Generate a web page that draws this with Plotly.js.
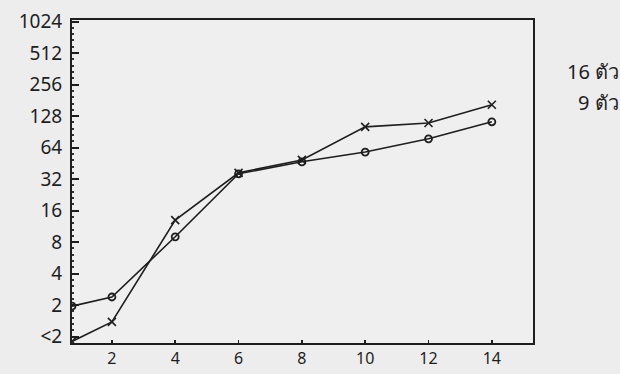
<!DOCTYPE html>
<html>
<head>
<meta charset="utf-8">
<script src="https://cdn.plot.ly/plotly-3.0.1.min.js"></script>
<style>html,body{margin:0;padding:0;background:#ededed;}</style>
</head>
<body>
<div id="chart" style="width:620px;height:374px;"></div>
<script>
// x values (time points); first point sits on the left axis
const xValues = [0.74, 2, 4, 6, 8, 10, 12, 14];
// y values are log2 step indexes: 0 = "<2", 1 = 2, 2 = 4, ... 10 = 1024
const series16 = [-0.15, 0.47, 3.70, 5.20, 5.61, 6.66, 6.78, 7.36];
const series9 = [0.97, 1.26, 3.17, 5.17, 5.55, 5.86, 6.28, 6.82];
const seriesNames = ["16 ตัว", "9 ตัว"];
const yTickVals = [0, 1, 2, 3, 4, 5, 6, 7, 8, 9, 10];
const yTickText = ["<2", "2", "4", "8", "16", "32", "64", "128", "256", "512", "1024"];
const xTickVals = [2, 4, 6, 8, 10, 12, 14];
const xTickText = ["2", "4", "6", "8", "10", "12", "14"];

const ink = '#1e1e1e';
const traces = [
  {x: xValues, y: series16, name: seriesNames[0], mode: 'lines+markers',
   line: {color: ink, width: 1.6},
   marker: {symbol: 'x-thin-open', size: 8, color: ink, line: {color: ink, width: 1.6}}},
  {x: xValues, y: series9, name: seriesNames[1], mode: 'lines+markers',
   line: {color: ink, width: 1.6},
   marker: {symbol: 'circle-open', size: 7, color: ink, line: {color: ink, width: 1.8}}}
];

const layout = {
  width: 620, height: 374,
  margin: {l: 72, r: 87, t: 20, b: 31},
  paper_bgcolor: '#ededed',
  plot_bgcolor: '#efefef',
  showlegend: false,
  font: {family: 'Noto Sans, DejaVu Sans, sans-serif', color: ink},
  xaxis: {
    range: [0.74, 15.3], tickvals: xTickVals, ticktext: xTickText,
    ticks: 'inside', ticklen: 3, tickwidth: 1.5, tickcolor: ink,
    showline: true, linecolor: ink, linewidth: 2, mirror: true,
    showgrid: false, zeroline: false,
    tickfont: {size: 16, color: ink}
  },
  yaxis: {
    range: [-0.2, 10.05], tickvals: yTickVals, ticktext: yTickText,
    ticks: 'inside', ticklen: 7, tickwidth: 2, tickcolor: ink,
    showline: true, linecolor: ink, linewidth: 2, mirror: true,
    showgrid: false, zeroline: false,
    ticklabelstandoff: 4,
    tickfont: {size: 19, color: ink},
    minor: {ticks: 'inside', ticklen: 2, tickwidth: 2, tickcolor: '#333', dtick: 0.2, showgrid: false}
  },
  annotations: [
    {xref: 'paper', yref: 'paper', x: 1.19, y: 0.84, xanchor: 'right', yanchor: 'middle',
     text: seriesNames[0], showarrow: false, font: {size: 20, color: ink}},
    {xref: 'paper', yref: 'paper', x: 1.19, y: 0.745, xanchor: 'right', yanchor: 'middle',
     text: seriesNames[1], showarrow: false, font: {size: 20, color: ink}}
  ]
};

Plotly.newPlot('chart', traces, layout, {displayModeBar: false, staticPlot: true});
</script>
</body>
</html>
